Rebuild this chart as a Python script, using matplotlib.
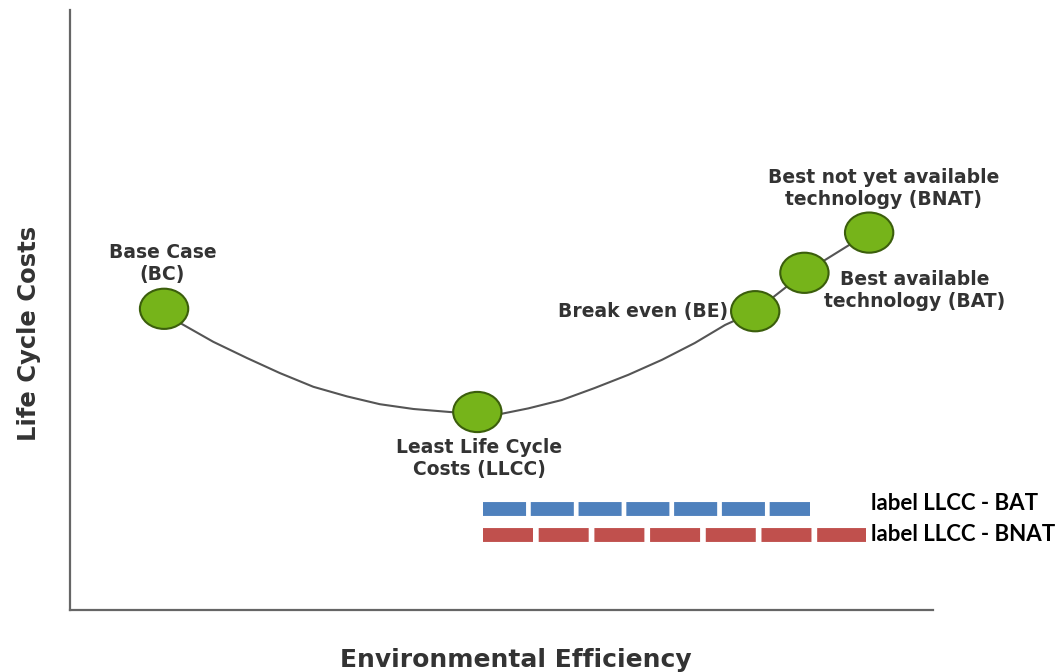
import matplotlib.pyplot as plt
from matplotlib.patches import Ellipse

# all values on a 0-100 scale (x: efficiency, y: life cycle costs)
point_names = ['BC', 'LLCC', 'BE', 'BAT', 'BNAT']
point_x = [10.9, 47.2, 79.4, 85.1, 92.6]
point_y = [50.2, 33.0, 49.8, 56.2, 62.9]

# curve, BC -> LLCC -> BE -> BAT -> BNAT
curve_x = [10.9, 12.8, 16.6, 20.5, 24.3, 28.2, 32.1, 35.9, 39.8, 44.0, 47.2,
           50.0, 53.1, 57.0, 60.8, 64.7, 68.6, 72.4, 75.9, 79.4, 85.1, 92.6]
curve_y = [50.2, 47.8, 44.7, 42.0, 39.5, 37.2, 35.6, 34.3, 33.5, 33.0, 32.7,
           32.7, 33.6, 35.0, 37.0, 39.2, 41.7, 44.5, 47.5, 49.8, 56.2, 62.9]

point_labels = ['Base Case\n(BC)', 'Least Life Cycle\nCosts (LLCC)', 'Break even (BE)',
                'Best available\ntechnology (BAT)', 'Best not yet available\ntechnology (BNAT)']
label_x = [10.7, 47.4, 76.3, 97.9, 94.3]
label_y = [57.7, 25.2, 49.8, 53.3, 70.2]

# ranges shown as dashed bars
range_names = ['label LLCC - BAT', 'label LLCC - BNAT']
range_start = [47.9, 47.9]
range_end = [85.8, 92.2]
range_y = [16.8, 12.5]
range_label_y = [16.7, 11.5]

plt.rcParams['lines.scale_dashes'] = False

fig = plt.figure(figsize=(10.58, 6.72), dpi=100)
ax = fig.add_axes([70 / 1058, 62 / 672, 863 / 1058, 600 / 672])
ax.set_xlim(0, 100)
ax.set_ylim(0, 100)
for s in ['top', 'right']:
    ax.spines[s].set_visible(False)
for s in ['left', 'bottom']:
    ax.spines[s].set_color('#666666')
    ax.spines[s].set_linewidth(1.6)
ax.set_xticks([])
ax.set_yticks([])

ax.plot(curve_x, curve_y, color='#555555', lw=1.5, zorder=2)

# circles are ellipses in data units (about 48 x 40 px)
for x, y in zip(point_x, point_y):
    ax.add_patch(Ellipse((x, y), 5.6, 6.7, facecolor='#76b41a', edgecolor='#3b5e0c',
                         lw=1.5, zorder=3))

aligns = ['center', 'center', 'right', 'center', 'center']
for txt, x, y, ha in zip(point_labels, label_x, label_y, aligns):
    ax.text(x, y, txt, ha=ha, va='center', multialignment='center', fontsize=13.5,
            fontweight='bold', color='#333333', family='DejaVu Sans', zorder=4)

colors = ['#4f81bd', '#c0504d']
dashes = [(31, 3.4), (36, 4.1)]
for name, x0, x1, y, ly, c, d in zip(range_names, range_start, range_end, range_y,
                                     range_label_y, colors, dashes):
    line, = ax.plot([x0, x1], [y, y], color=c, lw=10, dashes=d)
    line.set_dash_capstyle('butt')
    ax.text(92.8, ly, name, ha='left', va='baseline', fontsize=16,
            fontweight='bold', color='black', family='Lato')

fig.text(516 / 1058, 12 / 672, 'Environmental Efficiency', ha='center', va='center',
         fontsize=18, fontweight='bold', color='#333333', family='DejaVu Sans')
fig.text(29 / 1058, 339 / 672, 'Life Cycle Costs', ha='center', va='center', rotation=90,
         fontsize=17.5, fontweight='bold', color='#333333', family='DejaVu Sans')

fig.savefig('out.png', dpi=100)
